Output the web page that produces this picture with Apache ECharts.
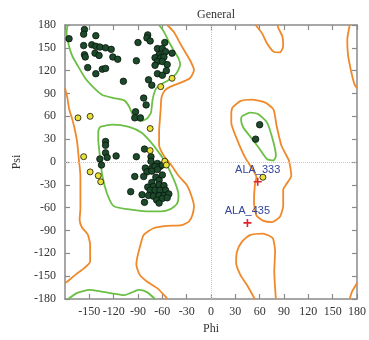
<!DOCTYPE html>
<html>
<head>
<meta charset="utf-8">
<script src="https://cdn.jsdelivr.net/npm/echarts@6.0.0/dist/echarts.min.js"></script>
<style>
  html, body { margin: 0; padding: 0; background: #fff; }
  #chart { width: 369px; height: 340px; }
</style>
</head>
<body>
<div id="chart"></div>
<script>
// residues in favoured/allowed regions [phi, psi]
const corePoints = [
  [-175,162],[-156,174],[-157,168],[-142,166],[-157,153],[-147,154],[-142,152],[-137,151],[-130,150],[-123,148],
  [-156,141],[-155,138],[-143,143],[-138,140],[-121,138],[-115,135],[-152,124],[-142,116],[-134,122],[-130,123],[-108,106],
  [-78,167],[-79,163],[-75,159],[-90,157],[-57,157],[-66,149],[-60,149],[-56,145],[-48,143],[-64,141],[-69,137],
  [-62,137],[-58,138],[-92,133],[-66,132],[-60,132],[-69,127],[-54,128],[-66,116],[-60,114],[-55,120],[-77,108],[-73,101],
  [-83,84],[-80,75],[-93,66],[-94,58],[-87,58],
  [-130,27],[-130,22],[-130,12],[-128,6],[-137,4],[-117,8],[-135,-4],[-99,-39],
  [-82,17],[-92,7],[-74,7],[-74,1],[-66,-2],[-81,-8],[-73,-8],[-69,-6],[-63,-6],[-60,-4],[-79,-13],[-73,-12],[-66,-10],
  [-94,-19],[-83,-19],[-68,-20],[-60,-17],[-64,-24],[-73,-27],[-78,-33],[-71,-32],[-64,-30],[-58,-31],[-75,-37],[-69,-37],
  [-63,-37],[-56,-37],[-85,-43],[-77,-44],[-71,-45],[-64,-44],[-58,-44],[-52,-42],[-67,-50],[-60,-48],[-54,-47],[-82,-53],[-64,-54],
  [60,49],[55,30]
];
const allowedPoints = [
  [-62,99],[-48,110],[-164,58],[-149,60],[-75,44],[-157,7],[-149,-13],[-139,-18],[-136,-26],[-75,15],[-57,1],[-55,-4],[64,-20]
];
const outlierNames = ['ALA_333', 'ALA_435'];
const outlierPoints = [[57.6,-26],[44.9,-80]];

// contour lines (favoured = green, allowed = orange)
const greenBeta = [[-177,180],[-178,169],[-175,152],[-171,139],[-164,126],[-155,110],[-144,97],[-134,88],[-120,84],[-107,81],
  [-101,73],[-97,63],[-94,57],[-87,54],[-79,57],[-74,65],[-72,82],[-68,96],[-62,102],[-53,107],[-43,116],[-38,128],[-40,136],
  [-45,145],[-52,158],[-58,171],[-64,180]];
const greenBetaWrap = [[-176,-180],[-165,-172],[-150,-168],[-136,-170],[-120,-173],[-107,-175],[-99,-172],[-89,-168],[-79,-171],[-69,-180]];
const greenAlpha = [[-137,46],[-122,49],[-101,46],[-85,38],[-75,27],[-66,15],[-60,6],[-52,-9],[-44,-28],[-40,-44],[-42,-55],
  [-50,-62],[-62,-65],[-75,-65],[-103,-62],[-120,-58],[-128,-42],[-134,-18],[-137,8],[-139,30],[-139,40],[-137,46]];
const greenLeft = [[38,60],[48,65],[58,63],[69,52],[77,26],[80,8],[77,2],[69,4],[60,17],[48,34],[40,45],[37,56],[38,60]];

const orangeLeft = [[-180,97],[-177,84],[-175,70],[-171,56],[-168,43],[-165,26],[-163,4],[-161,-18],[-161,-44],[-161,-61],
  [-162,-76],[-159,-86],[-152,-95],[-149,-109],[-149,-131],[-157,-140],[-167,-148],[-177,-157],[-180,-159]];
const orangeMid = [[-54,180],[-46,171],[-36,152],[-26,134],[-21,121],[-26,110],[-38,104],[-50,99],[-57,94],[-61,85],[-62,70],
  [-63,56],[-64,40],[-64,22],[-58,8],[-49,-4],[-40,-18],[-30,-30],[-24,-45],[-21,-58],[-23,-70],[-27,-78],[-36,-83],[-54,-84],
  [-71,-87],[-83,-96],[-87,-109],[-91,-126],[-92,-135],[-88,-148],[-79,-157],[-66,-166],[-56,-177],[-54,-180]];
const orangeTopRight = [[55,180],[63,169],[69,156],[77,145],[85,144],[89,152],[88,165],[83,176],[82,180]];
const orangeBottomRight = [[54,-180],[44,-161],[36,-148],[31,-132],[32,-118],[38,-105],[48,-96],[64,-94],[76,-100],[79,-118],
  [78,-144],[79,-165],[80,-180]];
const orangeLeftHanded = [[26,71],[36,80],[50,82],[67,78],[77,69],[81,47],[87,21],[96,2],[99,-18],[93,-29],[89,-36],[89,-57],
  [85,-72],[75,-79],[64,-77],[56,-70],[53,-53],[54,-31],[56,-20],[52,-11],[42,6],[32,30],[25,52],[25,65],[26,71]];
const orangeRight = [[171,180],[168,160],[169,140],[173,118],[177,102],[180,97]];
const orangeRightWrap = [[171,-180],[174,-170],[179,-161],[180,-159]];

const GREEN = '#6cbf45';
const ORANGE = '#f0892a';
const serif = 'Liberation Serif';

const chart = echarts.init(document.getElementById('chart'));

const contour = (data, color) => ({
  type: 'line',
  data,
  smooth: 0.2,
  showSymbol: false,
  silent: true,
  lineStyle: { color, width: 1.8 },
  z: 2
});

const axisBase = {
  type: 'value',
  min: -180,
  max: 180,
  interval: 30,
  axisLine: { show: true, onZero: false, lineStyle: { color: '#8a8a8a', width: 1.5 } },
  axisTick: { show: true, inside: true, length: 5, lineStyle: { color: '#8a8a8a', width: 1.2 } },
  splitLine: { show: false }
};

const option = {
  animation: false,
  backgroundColor: '#fff',
  title: {
    text: 'General',
    left: 211,
    top: 4,
    textAlign: 'center',
    textStyle: { fontFamily: serif, fontSize: 12, fontWeight: 'normal', color: '#333' }
  },
  grid: { left: 65, right: 12, top: 25, bottom: 39 },
  xAxis: [
    {
      ...axisBase,
      position: 'bottom',
      name: 'Phi',
      nameLocation: 'middle',
      nameGap: 24,
      nameTextStyle: { fontFamily: serif, fontSize: 12, color: '#333' },
      axisLabel: { showMinLabel: false, margin: 7, fontFamily: serif, fontSize: 12, color: '#333' }
    },
    { ...axisBase, position: 'top', axisLabel: { show: false } }
  ],
  yAxis: [
    {
      ...axisBase,
      position: 'left',
      name: 'Psi',
      nameLocation: 'middle',
      nameGap: 36,
      nameTextStyle: { fontFamily: serif, fontSize: 12, color: '#333' },
      axisLabel: { margin: 9, fontFamily: serif, fontSize: 12, color: '#333' }
    },
    { ...axisBase, position: 'right', axisLabel: { show: false } }
  ],
  series: [
    {
      type: 'line',
      data: [],
      markLine: {
        silent: true,
        symbol: 'none',
        label: { show: false },
        lineStyle: { color: '#c8c8c8', type: 'dotted', width: 1 },
        data: [{ xAxis: 0 }, { yAxis: 0 }]
      },
      z: 1
    },
    contour(greenBeta, GREEN),
    contour(greenBetaWrap, GREEN),
    contour(greenAlpha, GREEN),
    contour(greenLeft, GREEN),
    contour(orangeLeft, ORANGE),
    contour(orangeMid, ORANGE),
    contour(orangeTopRight, ORANGE),
    contour(orangeBottomRight, ORANGE),
    contour(orangeLeftHanded, ORANGE),
    contour(orangeRight, ORANGE),
    contour(orangeRightWrap, ORANGE),
    {
      type: 'scatter',
      data: corePoints,
      symbolSize: 6.5,
      itemStyle: { color: '#1c4a2b', borderColor: '#08140b', borderWidth: 0.8, opacity: 1 },
      z: 5
    },
    {
      type: 'scatter',
      data: allowedPoints,
      symbolSize: 6,
      itemStyle: { color: '#e9e03a', borderColor: '#2c2a10', borderWidth: 0.9, opacity: 1 },
      z: 5
    },
    {
      type: 'scatter',
      data: outlierPoints.map((p, i) => ({ value: p, name: outlierNames[i] })),
      symbol: 'path://M4,0h2v4h4v2h-4v4h-2v-4h-4v-2h4z',
      symbolSize: 8,
      itemStyle: { color: '#e3212b', opacity: 1 },
      label: {
        show: true,
        position: 'top',
        distance: 2,
        formatter: '{b}',
        fontFamily: 'Liberation Sans',
        fontSize: 11,
        color: '#34449c'
      },
      z: 6
    }
  ]
};

chart.setOption(option);
</script>
</body>
</html>
